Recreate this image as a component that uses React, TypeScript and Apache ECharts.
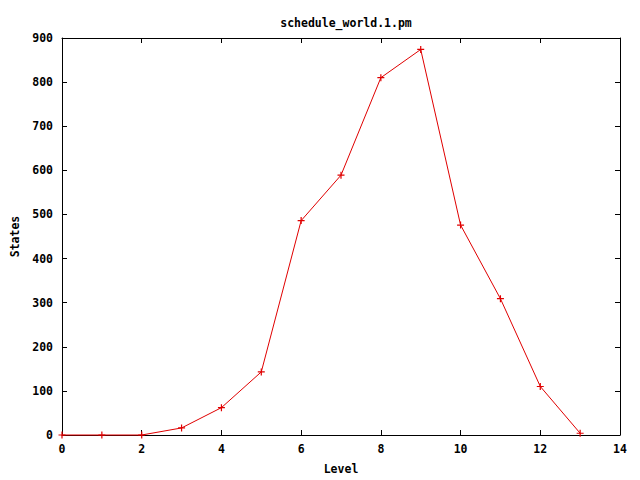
import React, { useEffect, useRef } from "react";
import * as echarts from "echarts";

const levels = [0, 1, 2, 3, 4, 5, 6, 7, 8, 9, 10, 11, 12, 13];
const states = [0, 0, 0, 16, 62, 143, 486, 589, 810, 874, 476, 309, 110, 4];
const titleText = "schedule_world.1.pm";
const xName = "Level";
const yName = "States";

const FONT = "'DejaVu Sans Mono', monospace";

export default function App() {
  const ref = useRef<HTMLDivElement>(null);
  useEffect(() => {
    if (!ref.current) return;
    const chart = echarts.init(ref.current, null, { renderer: "svg" });
    const data = levels.map((l, i) => [l, states[i]]);
    const axisLine = { show: true, onZero: false, lineStyle: { color: "#000", width: 1 } };
    const tick = { show: true, inside: true, length: 5, lineStyle: { color: "#000" } };
    const label = { color: "#000", fontFamily: FONT, fontWeight: "bold" as const, fontSize: 11.5 };
    chart.setOption({
      animation: false,
      backgroundColor: "#fff",
      title: {
        text: titleText,
        left: 341,
        top: 12,
        textAlign: "center",
        textStyle: { color: "#000", fontFamily: FONT, fontWeight: "bold", fontSize: 11.5 },
      },
      grid: { left: 62, right: 20, top: 38, bottom: 40, containLabel: false },
      xAxis: [
        {
          type: "value",
          min: 0,
          max: 14,
          interval: 2,
          position: "bottom",
          axisLine,
          axisTick: tick,
          splitLine: { show: false },
          axisLabel: { ...label, margin: 8 },
          name: xName,
          nameLocation: "middle",
          nameGap: 28,
          nameTextStyle: label,
        },
        {
          type: "value",
          min: 0,
          max: 14,
          interval: 2,
          position: "top",
          axisLine,
          axisTick: tick,
          splitLine: { show: false },
          axisLabel: { show: false },
        },
      ],
      yAxis: [
        {
          type: "value",
          min: 0,
          max: 900,
          interval: 100,
          position: "left",
          axisLine,
          axisTick: tick,
          splitLine: { show: false },
          axisLabel: { ...label, margin: 9 },
          name: yName,
          nameLocation: "middle",
          nameGap: 41,
          nameRotate: 90,
          nameTextStyle: label,
        },
        {
          type: "value",
          min: 0,
          max: 900,
          interval: 100,
          position: "right",
          axisLine,
          axisTick: tick,
          splitLine: { show: false },
          axisLabel: { show: false },
        },
      ],
      series: [
        {
          type: "line",
          data,
          xAxisIndex: 0,
          yAxisIndex: 0,
          symbol: "path://M5,0L5,10M0,5L10,5",
          symbolSize: 7,
          showSymbol: true,
          itemStyle: { color: "none", borderColor: "#e00000", borderWidth: 1.2 },
          lineStyle: { color: "#e00000", width: 1 },
          clip: false,
        },
      ],
    });
    return () => chart.dispose();
  }, []);
  return <div ref={ref} style={{ width: 640, height: 480, position: "absolute", left: 0, top: 0 }} />;
}
